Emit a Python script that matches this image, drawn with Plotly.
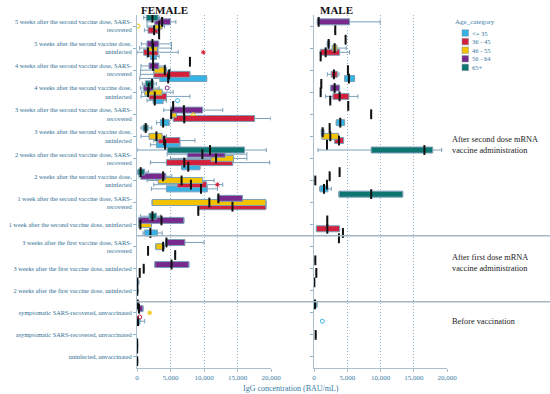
import plotly.graph_objects as go

CATEGORIES = [
    "5 weeks after the second vaccine dose, SARS-<br>recovered",
    "5 weeks after the second vaccine dose,<br>uninfected",
    "4 weeks after the second vaccine dose, SARS-<br>recovered",
    "4 weeks after the second vaccine dose,<br>uninfected",
    "3 weeks after the second vaccine dose, SARS-<br>recovered",
    "3 weeks after the second vaccine dose,<br>uninfected",
    "2 weeks after the second vaccine dose, SARS-<br>recovered",
    "2 weeks after the second vaccine dose,<br>uninfected",
    "1 week after the second vaccine dose, SARS-<br>recovered",
    "1 week after the second vaccine dose, uninfected",
    "3 weeks after the first vaccine dose, SARS-<br>recovered",
    "3 weeks after the first vaccine dose, uninfected",
    "2 weeks after the first vaccine dose, uninfected",
    "symptomatic SARS-recovered, unvaccinated",
    "asymptomatic SARS-recovered, unvaccinated",
    "uninfected, unvaccinated",
]
AGE_GROUPS = ["<= 35", "36 - 45", "46 - 55", "56 - 64", "65+"]
AGE_COLORS = ["#35b2e6", "#d3203c", "#f4c300", "#782a8c", "#0d7670"]
X_TICKS = [0, 5000, 10000, 15000, 20000]
X_TICKTEXT = ["0", "5,000", "10,000", "15,000", "20,000"]
SECTIONS = ["After second dose mRNA<br>vaccine administration",
            "After first dose mRNA<br>vaccine administration",
            "Before vaccination"]

# (category index, lower whisker, Q1, median, Q3, upper whisker)
F_LE35 = [
    (0, 3300, 3300, 3300, 3300, 3300),
    (1, 1500, 2000, 2400, 2900, 3300),
    (2, 400, 3400, 4650, 10400, 10400),
    (3, 1500, 2400, 2650, 3900, 4400),
    (4, 2900, 3500, 3900, 4800, 4800),
    (5, 2000, 2900, 4200, 6400, 6400),
    (6, 6650, 6650, 7650, 9400, 9400),
    (7, 2150, 4400, 9550, 10500, 12000),
    (8, 9150, 9150, 9150, 9150, 9150),
    (9, 900, 1150, 2000, 3050, 3750),
    (10, 5700, 5700, 5700, 5700, 5700),
    (13, 0, 0, 150, 450, 1150),
    (14, 0, 0, 20, 60, 120),
]
F_36_45 = [
    (0, 1100, 1650, 2550, 3150, 3300),
    (1, 0, 1000, 1650, 3150, 6150),
    (2, 500, 2500, 4800, 7900, 7900),
    (3, 600, 1800, 2650, 4400, 7900),
    (4, 5400, 5400, 7050, 17550, 20000),
    (5, 2500, 3150, 4050, 6400, 8650),
    (6, 2000, 4400, 7050, 14300, 19800),
    (7, 2500, 6000, 8050, 10400, 12800),
    (8, 9250, 9250, 14250, 19250, 19250),
    (10, 1650, 1650, 1650, 1650, 1650),
    (11, 400, 400, 400, 400, 400),
    (15, 0, 0, 30, 80, 150),
]
F_46_55 = [
    (0, 1500, 2650, 3300, 3750, 4100),
    (1, 400, 1500, 2400, 3050, 5150),
    (2, 550, 2550, 4150, 4400, 5000),
    (3, 700, 1150, 1650, 3750, 5400),
    (4, 5000, 5000, 5100, 5900, 5900),
    (5, 600, 1800, 2900, 3750, 4400),
    (6, 5000, 11050, 11800, 14400, 16400),
    (7, 1500, 3150, 6650, 9800, 11500),
    (8, 2250, 2250, 10800, 19250, 19250),
    (9, 250, 250, 500, 2150, 2150),
    (10, 2800, 2800, 3900, 4050, 4050),
    (11, 1000, 1000, 1000, 1000, 1000),
    (12, 0, 0, 40, 100, 200),
]
F_56_64 = [
    (0, 1500, 2650, 3750, 5000, 5800),
    (1, 650, 1500, 2300, 3250, 5150),
    (2, 600, 1800, 2400, 3250, 4200),
    (3, 500, 1000, 1750, 2400, 3300),
    (4, 4000, 5000, 7000, 9800, 12800),
    (6, 4500, 7500, 9750, 13150, 16400),
    (7, 300, 550, 3900, 4300, 5200),
    (8, 12000, 12000, 12150, 15750, 15750),
    (9, 250, 250, 3650, 7000, 7000),
    (10, 4300, 4300, 4400, 7150, 10000),
    (11, 2650, 2650, 5150, 7750, 7750),
    (13, 0, 150, 300, 900, 900),
]
F_65 = [
    (0, 1000, 1400, 2300, 3150, 3400),
    (2, 7900, 7900, 7900, 7900, 7900),
    (3, 800, 1250, 2250, 2500, 2900),
    (4, 5400, 5400, 5400, 5400, 5400),
    (5, 600, 900, 1300, 1650, 2200),
    (6, 0, 4550, 10900, 16050, 19300),
    (7, 100, 150, 550, 1150, 1700),
    (9, 500, 1800, 2300, 2900, 3500),
    (12, 0, 0, 50, 150, 300),
    (13, 0, 0, 100, 300, 300),
    (15, 0, 0, 20, 60, 100),
]

M_LE35 = [
    (1, 1000, 1000, 1000, 1000, 1000),
    (2, 4600, 4600, 5250, 6100, 6100),
    (3, 2450, 2450, 2450, 2450, 2450),
    (4, 3350, 3350, 3950, 4600, 4600),
    (5, 1950, 1950, 1950, 1950, 1950),
    (7, 850, 900, 1500, 2100, 2600),
    (9, 4350, 4350, 4350, 4350, 4350),
]
M_36_45 = [
    (0, 3200, 3200, 3200, 3200, 3200),
    (1, 950, 950, 1750, 3850, 5350),
    (2, 2000, 2600, 3000, 3500, 3750),
    (3, 1750, 2850, 3850, 5250, 6600),
    (5, 3100, 3100, 3750, 4450, 4450),
    (7, 1950, 1950, 1950, 1950, 1950),
    (9, 350, 350, 2000, 3850, 3850),
    (11, 350, 350, 350, 350, 350),
]
M_46_55 = [
    (1, 2750, 2750, 3100, 3450, 4850),
    (2, 5100, 5100, 5100, 5100, 5100),
    (3, 1000, 1000, 1000, 1000, 1000),
    (4, 8600, 8600, 8600, 8600, 8600),
    (5, 1200, 1200, 2450, 3700, 3700),
    (7, 200, 200, 200, 200, 200),
    (14, 250, 250, 250, 250, 250),
]
M_56_64 = [
    (0, 500, 500, 700, 5350, 9950),
    (1, 2000, 2000, 2200, 2350, 2350),
    (3, 2500, 2500, 3100, 3850, 3850),
    (5, 1100, 1100, 1300, 1500, 1500),
    (7, 2350, 2350, 2350, 2350, 2350),
    (9, 2000, 2000, 2000, 2000, 2000),
]
M_65 = [
    (1, 4750, 4750, 4750, 4750, 4750),
    (3, 1100, 1100, 1100, 1100, 1100),
    (4, 5150, 5150, 5150, 5150, 5150),
    (5, 2350, 2350, 2350, 2350, 2350),
    (6, 600, 8600, 16600, 17850, 19200),
    (7, 3850, 3850, 3850, 3850, 3850),
    (8, 3750, 3750, 8600, 13350, 13350),
    (10, 3750, 3750, 3750, 3750, 3750),
    (11, 200, 200, 200, 200, 200),
    (12, 50, 50, 50, 50, 50),
    (13, 0, 0, 150, 450, 450),
]

# outliers: (age index, category index, value, symbol)
F_OUTLIERS = [
    (2, 0, 150, "circle-open"),
    (1, 1, 9900, "asterisk-open"),
    (3, 3, 4500, "circle-open"),
    (0, 3, 6050, "circle-open"),
    (2, 4, 8400, "triangle-up-open"),
    (1, 7, 12000, "asterisk-open"),
    (1, 13, 400, "circle-open"),
    (2, 13, 1900, "asterisk-open"),
]
M_OUTLIERS = [
    (0, 13, 1250, "circle-open"),
]

FEMALE = [F_LE35, F_36_45, F_46_55, F_56_64, F_65]
MALE = [M_LE35, M_36_45, M_46_55, M_56_64, M_65]

# ---- layout geometry (pixels) ----
W, H = 550, 394
L, R, T, B = 137, 103, 15, 26
PW, PH = W - L - R, H - T - B


def px(x):
    return (x - L) / PW


def py(y):
    return (H - B - y) / PH


SLOT = 0.19
BOXW = 0.27
WHISK = "#7b9fb8"
BLUE_TXT = "#3a7aa3"
SERIF = "Liberation Serif, Times New Roman, serif"

fig = go.Figure()


def add_panel(groups, outliers, xa, ya):
    for k, rows in enumerate(groups):
        off = (2 - k) * SLOT
        ys = [r[0] + off for r in rows]
        fig.add_trace(go.Box(
            orientation="h", y=ys,
            lowerfence=[r[1] for r in rows], q1=[r[2] for r in rows],
            median=[r[3] for r in rows], q3=[r[4] for r in rows],
            upperfence=[r[5] for r in rows],
            width=BOXW, whiskerwidth=0.7, fillcolor=AGE_COLORS[k],
            line=dict(color=WHISK, width=1), boxpoints=False,
            showlegend=False, xaxis=xa, yaxis=ya, hoverinfo="skip"))
        fig.add_trace(go.Scatter(
            x=[r[3] for r in rows], y=ys, mode="markers",
            marker=dict(symbol="line-ns", size=7,
                        line=dict(width=2, color="#111111")),
            showlegend=False, xaxis=xa, yaxis=ya, hoverinfo="skip"))
    for a, c, v, s in outliers:
        fig.add_trace(go.Scatter(
            x=[v], y=[c + (2 - a) * SLOT], mode="markers",
            marker=dict(symbol=s, size=4, color=AGE_COLORS[a],
                        line=dict(width=1, color=AGE_COLORS[a])),
            showlegend=False, xaxis=xa, yaxis=ya, hoverinfo="skip"))


add_panel(FEMALE, F_OUTLIERS, "x", "y")
add_panel(MALE, M_OUTLIERS, "x2", "y2")

xcommon = dict(range=[0, 20000], tickvals=X_TICKS, ticktext=X_TICKTEXT,
               showgrid=True, gridcolor="#8fb9d3", griddash="1px,2px", gridwidth=1,
               zeroline=False, showline=True, linecolor="#a9bfcc", linewidth=1,
               ticks="outside", ticklen=3, tickcolor="#a9bfcc", automargin=False,
               tickfont=dict(family=SERIF, size=7, color=BLUE_TXT))
ycommon = dict(range=[len(CATEGORIES) - 0.5, -0.5],
               tickvals=list(range(len(CATEGORIES))), automargin=False,
               showgrid=False, zeroline=False, showline=True,
               linecolor="#a9bfcc", linewidth=1, ticks="outside", ticklen=3,
               tickcolor="#8fb6cf")

fig.update_layout(
    width=W, height=H, margin=dict(l=L, r=R, t=T, b=B),
    paper_bgcolor="white", plot_bgcolor="white", showlegend=False,
    xaxis=dict(domain=[0, px(271)], anchor="y", **xcommon),
    xaxis2=dict(domain=[px(314), 1], anchor="y2", **xcommon),
    yaxis=dict(anchor="x", ticktext=CATEGORIES,
               tickfont=dict(family=SERIF, size=6.3, color="#2f6e93"), **ycommon),
    yaxis2=dict(anchor="x2", showticklabels=False, **ycommon),
)

shapes = []
for sep in [9.5, 12.5]:
    shapes.append(dict(type="line", xref="paper", yref="y", x0=0, x1=px(W),
                       y0=sep, y1=sep, line=dict(color="#a3b6c2", width=1.5)))

ann = []
ann.append(dict(text="<b>FEMALE</b>", x=px(139), y=py(10), xref="paper", yref="paper",
                xanchor="left", yanchor="middle", showarrow=False,
                font=dict(family=SERIF, size=11, color="#111")))
ann.append(dict(text="<b>MALE</b>", x=px(318), y=py(10), xref="paper", yref="paper",
                xanchor="left", yanchor="middle", showarrow=False,
                font=dict(family=SERIF, size=11, color="#111")))
ann.append(dict(text="IgG concentration (BAU/mL)", x=px(291), y=py(388),
                xref="paper", yref="paper", xanchor="center", yanchor="middle",
                showarrow=False, font=dict(family=SERIF, size=8, color=BLUE_TXT)))
for txt, yy in zip(SECTIONS, [145, 263, 321]):
    ann.append(dict(text=txt, x=px(450), y=py(yy), xref="paper", yref="paper",
                    xanchor="left", yanchor="middle", align="left", showarrow=False,
                    font=dict(family=SERIF, size=8.3, color="#222")))

# legend drawn manually
ann.append(dict(text="Age_category", x=px(453), y=py(22), xref="paper", yref="paper",
                xanchor="left", yanchor="middle", showarrow=False,
                font=dict(family=SERIF, size=7, color=BLUE_TXT)))
for k, (lab, col) in enumerate(zip(AGE_GROUPS, AGE_COLORS)):
    yc = 33 + k * 8.6
    shapes.append(dict(type="rect", xref="paper", yref="paper",
                       x0=px(462), x1=px(468.5), y0=py(yc + 3.2), y1=py(yc - 3.2),
                       fillcolor=col, line=dict(color="#7d8f99", width=0.5)))
    ann.append(dict(text=lab, x=px(470), y=py(yc), xref="paper", yref="paper",
                    xanchor="left", yanchor="middle", showarrow=False,
                    font=dict(family=SERIF, size=6.5, color=BLUE_TXT)))

fig.update_layout(shapes=shapes, annotations=ann)
fig.write_html("out.html", config={"displayModeBar": False},
               post_script="document.body.style.margin='0';document.body.style.overflow='hidden';")
